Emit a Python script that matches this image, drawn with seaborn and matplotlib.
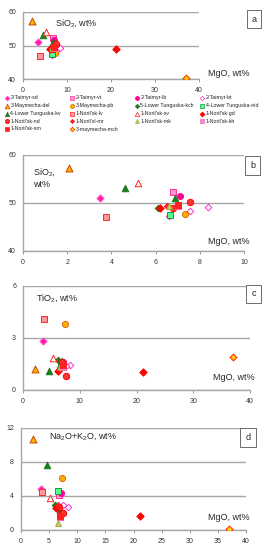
import matplotlib
matplotlib.use("Agg")
import matplotlib.pyplot as plt
import seaborn as sns
import numpy as np
import pandas as pd

# legend order (row by row, as in the picture)
series_names = ["2-Taimyr-sd", "2-Taimyr-vt", "2-Taimyr-lb", "2-Taimyr-bt",
                "3-Maymecha-del", "3-Maymecha-pb", "5-Lower Tunguska-kch", "4-Lower Tunguska-nid",
                "4-Lower Tunguska-kv", "1-Noril'sk-lv", "1-Noril'sk-sv", "1-Noril'sk-gd",
                "1-Noril'sk-nd", "1-Noril'sl-mr", "1-Noril'sk-mk", "1-Noril'sk-kh",
                "1-Noril'sk-sm", "3-maymecha-mch"]

# one entry per sample
point_series = ["2-Taimyr-sd", "2-Taimyr-vt", "2-Taimyr-lb", "2-Taimyr-bt", "2-Taimyr-bt",
                "2-Taimyr-bt", "3-Maymecha-del", "3-Maymecha-pb", "5-Lower Tunguska-kch",
                "4-Lower Tunguska-nid", "4-Lower Tunguska-kv", "4-Lower Tunguska-kv",
                "1-Noril'sk-lv", "1-Noril'sk-sv", "1-Noril'sk-gd", "1-Noril'sk-gd",
                "1-Noril'sk-nd", "1-Noril'sk-nd", "1-Noril'sl-mr", "1-Noril'sk-mk",
                "1-Noril'sk-kh", "1-Noril'sk-sm", "3-maymecha-mch"]
mgo = [3.5, 6.8, 7.1, 8.35, 7.55, 6.6, 2.1, 7.35, 6.1, 6.65, 4.6, 6.9,
       3.75, 5.2, 6.2, 21.1, 7.55, 6.8, 6.5, 6.6, 7.0, 7.0, 37.0]
sio2 = [51.1, 52.2, 51.5, 49.2, 48.3, 47.3, 57.3, 47.7, 49.0, 47.5, 53.2, 51.0,
        47.0, 54.1, 49.0, 49.0, 50.3, 48.9, 49.4, 49.3, 49.3, 49.6, 40.4]
tio2 = [2.85, 1.5, 1.6, 1.45, 1.4, 1.3, 1.2, 3.8, 1.73, 1.35, 1.1, 1.65,
        4.08, 1.86, 1.12, 1.06, 0.8, 1.6, 1.2, 1.3, 1.3, 1.45, 1.92]
alk = [4.8, 4.1, 4.3, 2.7, 2.9, 3.0, 10.7, 6.15, 2.95, 4.55, 7.7, 2.3,
       4.5, 3.75, 2.55, 1.6, 2.0, 2.7, 2.8, 0.85, 1.5, 1.6, 0.08]

# marker, face colour, edge colour, size
styles = {
    "2-Taimyr-sd": ("D", "#ff1aa8", "#ff66cc", 14),
    "2-Taimyr-vt": ("s", "#ff99cc", "#ff3399", 16),
    "2-Taimyr-lb": ("o", "#ff0099", "#ff0099", 19),
    "2-Taimyr-bt": ("D", "#ffffff", "#ff33cc", 11),
    "3-Maymecha-del": ("^", "#ffb000", "#cc4400", 25),
    "3-Maymecha-pb": ("o", "#ffb000", "#dd6600", 19),
    "5-Lower Tunguska-kch": ("D", "#1f7a1f", "#1f7a1f", 11),
    "4-Lower Tunguska-nid": ("s", "#55ff88", "#119944", 16),
    "4-Lower Tunguska-kv": ("^", "#1f7a1f", "#1f7a1f", 22),
    "1-Noril'sk-lv": ("s", "#ff9999", "#ff2a2a", 17),
    "1-Noril'sk-sv": ("^", "#ffffff", "#ff2222", 22),
    "1-Noril'sk-gd": ("D", "#ff0000", "#ff0000", 14),
    "1-Noril'sk-nd": ("o", "#ff3333", "#ff0000", 21),
    "1-Noril'sl-mr": ("D", "#ff1a1a", "#ff1a1a", 10),
    "1-Noril'sk-mk": ("^", "#d8c870", "#99aa33", 17),
    "1-Noril'sk-kh": ("s", "#cc99ee", "#ff66aa", 15),
    "1-Noril'sk-sm": ("s", "#ff2020", "#ff2020", 15),
    "3-maymecha-mch": ("D", "#ffcc00", "#ff2200", 12),
}

df = pd.DataFrame({"series": point_series, "MgO": mgo, "SiO2": sio2,
                   "TiO2": tio2, "Alk": alk})

W, H = 267, 550


def fx(x):
    return x / W


def fy(y):
    return 1 - y / H


sns.set_theme(style="white")
plt.rcParams["font.family"] = ["Liberation Sans", "DejaVu Sans"]
plt.rcParams["mathtext.fontset"] = "custom"
plt.rcParams["mathtext.rm"] = "Liberation Sans"
plt.rcParams["mathtext.it"] = "Liberation Sans"

fig = plt.figure(figsize=(W / 100, H / 100), dpi=100)

grid_c = "#a6a6a6"


def panel(rect_px, ycol, xmax, xstep, ylim, ystep):
    l, r, t, b = rect_px
    ax = fig.add_axes([fx(l), fy(b), (r - l) / W, (b - t) / H])
    for name in series_names:
        sub = df[df["series"] == name]
        m, fc, ec, s = styles[name]
        sns.scatterplot(data=sub, x="MgO", y=ycol, ax=ax, marker=m, color=fc,
                        edgecolor=ec, linewidth=0.7, s=s, legend=False,
                        clip_on=True, zorder=3)
    ax.set_xlim(0, xmax)
    ax.set_ylim(*ylim)
    ax.set_xticks(np.arange(0, xmax + 0.01, xstep))
    ax.set_yticks(np.arange(ylim[0], ylim[1] + 0.01, ystep))
    ax.set_xlabel("")
    ax.set_ylabel("")
    ax.grid(axis="y", color=grid_c, lw=1.0)
    ax.grid(axis="x", visible=False)
    ax.set_axisbelow(True)
    for sp in ["top", "right"]:
        ax.spines[sp].set_visible(False)
    for sp in ["left", "bottom"]:
        ax.spines[sp].set_color(grid_c)
        ax.spines[sp].set_linewidth(1.0)
    ax.tick_params(axis="x", bottom=True, length=2, width=0.6, color="#888888",
                   labelsize=5, pad=4, labelcolor="#333333")
    ax.tick_params(axis="y", left=False, length=0, labelsize=5, pad=5,
                   labelcolor="#333333")
    ax.patch.set_alpha(0)
    return ax


ax_a = panel((23, 199, 12, 79), "SiO2", 40, 10, (40, 60), 10)
ax_b = panel((23, 244, 155, 251), "SiO2", 10, 2, (40, 60), 10)
ax_c = panel((23, 250, 286, 390), "TiO2", 40, 10, (0, 6), 3)
ax_d = panel((21, 246, 428, 530), "Alk", 40, 5, (0, 12), 4)

lab_fs = 6.5
fig.text(fx(55), fy(23), "SiO$_2$, wt%", fontsize=lab_fs, va="center", ha="left")
fig.text(fx(208), fy(73), "MgO, wt%", fontsize=lab_fs, va="center", ha="left")
fig.text(fx(33), fy(177.5), "SiO$_2$,\nwt%", fontsize=lab_fs, va="center", ha="left",
         linespacing=1.4)
fig.text(fx(208), fy(242), "MgO, wt%", fontsize=lab_fs, va="center", ha="left")
fig.text(fx(36), fy(298), "TiO$_2$, wt%", fontsize=lab_fs, va="center", ha="left")
fig.text(fx(213), fy(378), "MgO, wt%", fontsize=lab_fs, va="center", ha="left")
fig.text(fx(49), fy(437), "Na$_2$O+K$_2$O, wt%", fontsize=lab_fs, va="center", ha="left")
fig.text(fx(208), fy(518), "MgO, wt%", fontsize=lab_fs, va="center", ha="left")

for letter, cx, cy in [("a", 254, 19), ("b", 252.5, 165.5), ("c", 253.5, 294), ("d", 248, 437.5)]:
    fig.text(fx(cx), fy(cy), letter, fontsize=6.5, ha="center", va="center",
             bbox=dict(boxstyle="square,pad=0.55", fc="white", ec="#555555", lw=0.6))

# legend grid under panel a
leg = fig.add_axes([0, 0, 1, 1])
leg.set_xlim(0, W)
leg.set_ylim(H, 0)
leg.axis("off")
col_x = [7, 72, 137, 202]
row_y0, row_dy = 98, 7.75
for i, name in enumerate(series_names):
    m, fc, ec, s = styles[name]
    x0 = col_x[i % 4]
    y0 = row_y0 + row_dy * (i // 4)
    leg.scatter([x0], [y0], marker=m, c=fc, edgecolors=ec, linewidths=0.5, s=s * 0.45)
    leg.text(x0 + 3.5, y0, name, fontsize=3.8, va="center", ha="left", color="#222222")

plt.savefig("out.png", dpi=100)
